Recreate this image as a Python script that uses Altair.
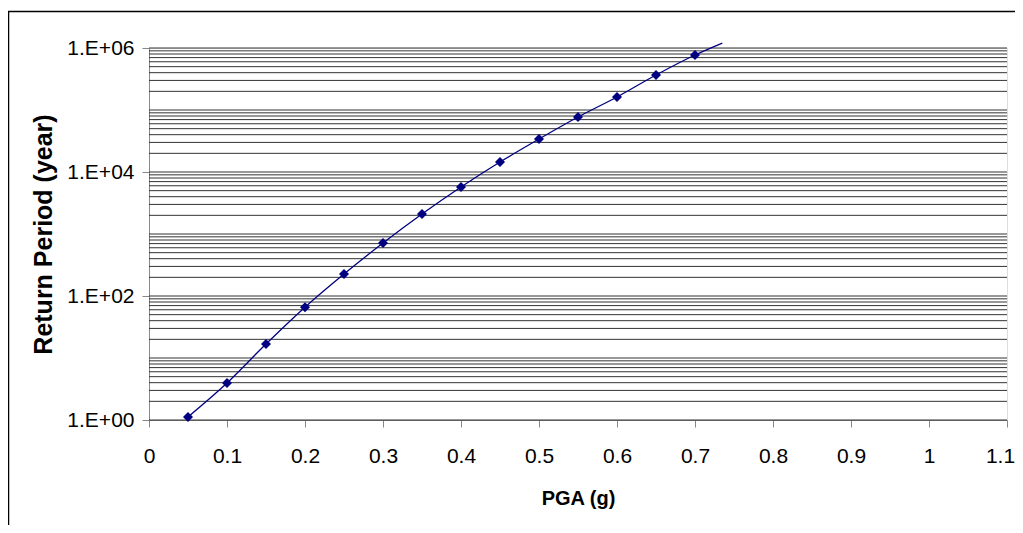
import altair as alt
import pandas as pd

# Data
pga = [0.05, 0.10, 0.15, 0.20, 0.25, 0.30, 0.35, 0.40, 0.45, 0.50, 0.55, 0.60, 0.65, 0.70]
return_period = [1.12, 3.95, 16.8, 66, 226, 716, 2100, 5730, 14500, 34000, 77000, 162000, 367000, 771000]

# smoothed line continues slightly beyond the last marker
line_pga = pga + [0.735]
line_rp = return_period + [1.2e6]

grid_values = [m * 10 ** k for k in range(6) for m in range(1, 10)] + [1e6]
x_ticks = [round(0.1 * i, 1) for i in range(12)]
y_ticks = [1, 100, 10000, 1000000]

points_df = pd.DataFrame({"pga": pga, "rp": return_period})
line_df = pd.DataFrame({"pga": line_pga, "rp": line_rp})
grid_df = pd.DataFrame({"rp": grid_values})

x_scale = alt.Scale(domain=[0, 1.1], nice=False, zero=False)
y_scale = alt.Scale(type="log", domain=[1, 1e6], nice=False)

x_axis = alt.Axis(
    values=x_ticks, format=".1~f", grid=False, title="PGA (g)",
    tickSize=7, labelPadding=18, labelOverlap=False, labelFlush=False,
    labelOffset={"condition": {"test": "datum.value > 1.05", "value": -7}, "value": 0},
    labelFontSize=21, labelFont="Liberation Sans", labelColor="black",
    titleX=429, titleY=78, titleBaseline="middle", titleFontSize=20,
)
y_axis = alt.Axis(
    values=y_ticks, grid=False, title="Return Period (year)",
    labelExpr="'1.E+0' + round(log(datum.value) / LN10)",
    tickSize=7, labelPadding=8, labelOverlap=False, labelFlush=False,
    labelFontSize=21, labelFont="Liberation Sans", labelColor="black",
    titleX=-106, titleY=186, titleAngle=270, titleAlign="center",
    titleBaseline="middle", titleFontSize=25,
)

x_enc = alt.X("pga:Q", scale=x_scale, axis=x_axis)
y_enc = alt.Y("rp:Q", scale=y_scale, axis=y_axis)

grid = alt.Chart(grid_df).mark_rule(color="#333333", strokeWidth=1).encode(y=y_enc)

frame_left = alt.Chart(alt.Data(values=[{}])).mark_rule(color="black", strokeWidth=1.5).encode(
    x=alt.value(-140.5), y=alt.value(-37), y2=alt.value(500)
)
frame_top = alt.Chart(alt.Data(values=[{}])).mark_rule(color="black", strokeWidth=1.5).encode(
    x=alt.value(-141), x2=alt.value(900), y=alt.value(-36.5)
)

line = alt.Chart(line_df).mark_line(
    color="#000080", strokeWidth=1.3, interpolate="monotone", clip=False
).encode(x=x_enc, y=y_enc)

points = alt.Chart(points_df).mark_point(
    shape="diamond", filled=True, color="#000080", size=100, opacity=1
).encode(x=x_enc, y=y_enc)

chart = alt.layer(grid, frame_left, frame_top, line, points).properties(
    width=858, height=372,
    autosize=alt.AutoSizeParams(type="none"),
    padding={"left": 141, "top": 40, "right": 8, "bottom": 105},
).configure_view(
    stroke="#808080", strokeWidth=1
).configure_axis(
    domainColor="black", tickColor="black", labelColor="black", titleColor="black",
    labelFont="Liberation Sans", titleFont="Liberation Sans",
    labelFontSize=21, titleFontWeight="bold",
).configure(background="white")

chart.save("out.html", embed_options={"renderer": "svg", "actions": False})
